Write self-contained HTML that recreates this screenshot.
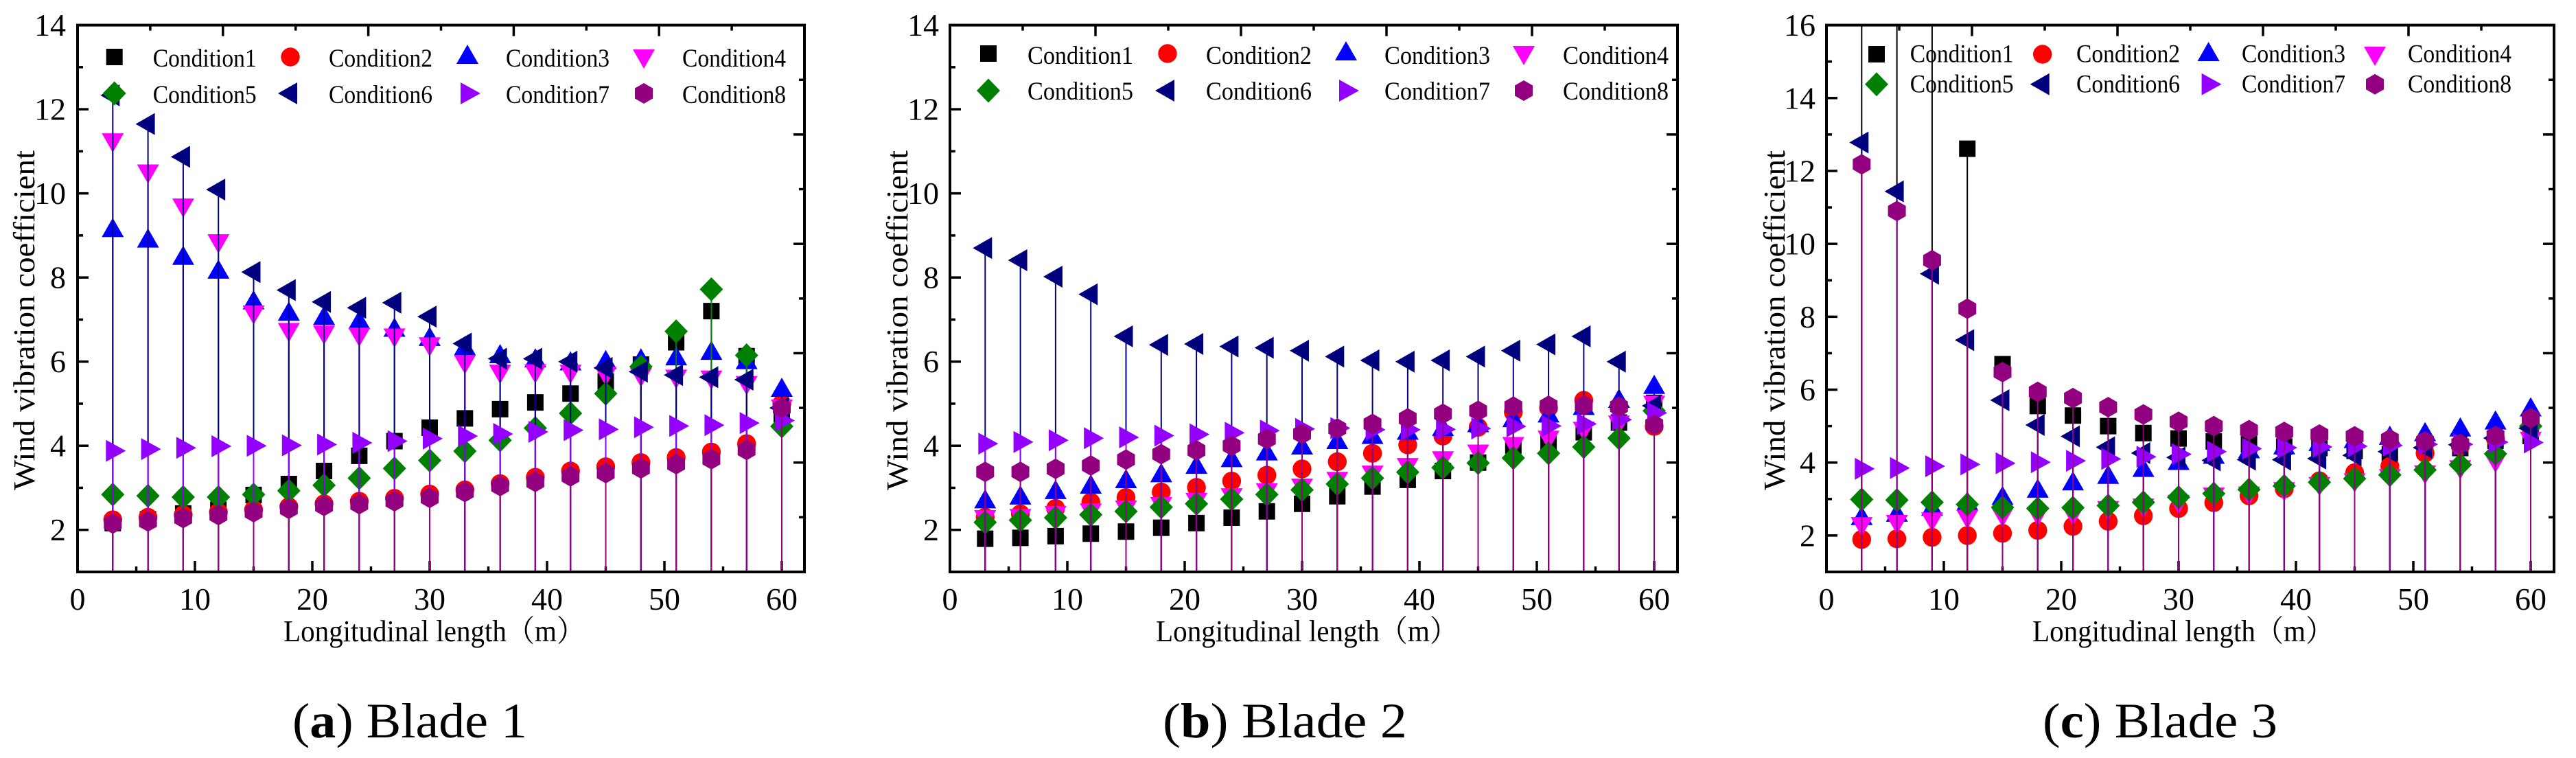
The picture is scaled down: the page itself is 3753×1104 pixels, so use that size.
<!DOCTYPE html>
<html lang="en">
<head>
<meta charset="utf-8">
<title>Wind vibration coefficient along blades 1 to 3</title>
<style>
  html, body { margin: 0; padding: 0; background: #fff; }
  svg { display: block; }
  text { font-family: "Liberation Serif", "Noto Serif CJK SC", serif; fill: #000; }
  .tick-label { font-size: 46px; }
  .axis-title { font-size: 44px; }
  .legend-text { font-size: 37px; }
  .caption { font-size: 72px; }
</style>
</head>
<body>
<svg id="chart" xmlns="http://www.w3.org/2000/svg" width="3753" height="1104" viewBox="0 0 3753 1104">
  <rect width="3753" height="1104" fill="#fff"/>
  <defs>
    <clipPath id="clip-a"><rect x="113" y="36.6" width="1059" height="796.4"/></clipPath>
    <clipPath id="clip-b"><rect x="1384" y="36.6" width="1060" height="796.4"/></clipPath>
    <clipPath id="clip-c"><rect x="2661" y="36.6" width="1060" height="796.4"/></clipPath>
  </defs>

  <g id="panel-a">
    <g id="panel-a-ticks"></g>
    <g id="panel-a-marks" clip-path="url(#clip-a)"></g>
    <g id="panel-a-frame"></g>
    <g id="panel-a-legend"></g>
    <text class="axis-title" x="413" y="934" textLength="439" lengthAdjust="spacingAndGlyphs">Longitudinal length（m）</text>
    <text class="axis-title" transform="translate(50,714) rotate(-90)" textLength="495" lengthAdjust="spacingAndGlyphs">Wind vibration coefficient</text>
    <text class="caption" x="426" y="1074" textLength="342" lengthAdjust="spacingAndGlyphs">(<tspan font-weight="bold">a</tspan>) Blade 1</text>
  </g>

  <g id="panel-b">
    <g id="panel-b-ticks"></g>
    <g id="panel-b-marks" clip-path="url(#clip-b)"></g>
    <g id="panel-b-frame"></g>
    <g id="panel-b-legend"></g>
    <text class="axis-title" x="1684" y="934" textLength="440" lengthAdjust="spacingAndGlyphs">Longitudinal length（m）</text>
    <text class="axis-title" transform="translate(1322,714) rotate(-90)" textLength="495" lengthAdjust="spacingAndGlyphs">Wind vibration coefficient</text>
    <text class="caption" x="1694" y="1074" textLength="356" lengthAdjust="spacingAndGlyphs">(<tspan font-weight="bold">b</tspan>) Blade 2</text>
  </g>

  <g id="panel-c">
    <g id="panel-c-ticks"></g>
    <g id="panel-c-marks" clip-path="url(#clip-c)"></g>
    <g id="panel-c-frame"></g>
    <g id="panel-c-legend"></g>
    <text class="axis-title" x="2961" y="934" textLength="439" lengthAdjust="spacingAndGlyphs">Longitudinal length（m）</text>
    <text class="axis-title" transform="translate(2600,714) rotate(-90)" textLength="495" lengthAdjust="spacingAndGlyphs">Wind vibration coefficient</text>
    <text class="caption" x="2976" y="1074" textLength="342" lengthAdjust="spacingAndGlyphs">(<tspan font-weight="bold">c</tspan>) Blade 3</text>
  </g>
</svg>

<script>
const conditionNames = ['Condition1', 'Condition2', 'Condition3', 'Condition4', 'Condition5', 'Condition6', 'Condition7', 'Condition8'];
const longitudinalLengths = [3, 6, 9, 12, 15, 18, 21, 24, 27, 30, 33, 36, 39, 42, 45, 48, 51, 54, 57, 60];
const xTickLabels = [0, 10, 20, 30, 40, 50, 60];
const yTickLabelsAB = [2, 4, 6, 8, 10, 12, 14];
const yTickLabelsC = [2, 4, 6, 8, 10, 12, 14, 16];

const blade1Condition1 = [2.16, 2.25, 2.39, 2.48, 2.83, 3.09, 3.4, 3.76, 4.11, 4.43, 4.65, 4.87, 5.03, 5.24, 5.53, 5.93, 6.46, 7.2, 6.13, 4.75];
const blade1Condition2 = [2.24, 2.3, 2.36, 2.42, 2.48, 2.55, 2.62, 2.68, 2.75, 2.85, 2.95, 3.1, 3.25, 3.4, 3.5, 3.6, 3.72, 3.85, 4.05, 5.0];
const blade1Condition3 = [9.19, 8.94, 8.53, 8.2, 7.47, 7.2, 7.1, 7.0, 6.82, 6.6, 6.38, 6.19, 6.09, 6.02, 6.05, 6.09, 6.14, 6.27, 6.05, 5.39];
const blade1Condition4 = [11.2, 10.46, 9.65, 8.8, 7.11, 6.69, 6.63, 6.58, 6.56, 6.35, 5.93, 5.7, 5.71, 5.7, 5.65, 5.62, 5.58, 5.56, 5.43, 4.87];
const blade1Condition5 = [2.84, 2.81, 2.78, 2.78, 2.84, 2.93, 3.06, 3.23, 3.46, 3.65, 3.87, 4.13, 4.42, 4.77, 5.24, 5.88, 6.72, 7.72, 6.15, 4.46];
const blade1Condition6 = [12.33, 11.65, 10.87, 10.09, 8.13, 7.7, 7.42, 7.28, 7.4, 7.07, 6.43, 6.07, 6.07, 6.0, 5.85, 5.76, 5.68, 5.63, 5.57, 4.9];
const blade1Condition7 = [3.88, 3.92, 3.95, 3.99, 4.0, 4.01, 4.03, 4.07, 4.11, 4.17, 4.23, 4.28, 4.33, 4.37, 4.39, 4.44, 4.47, 4.49, 4.54, 4.6];
const blade1Condition8 = [2.15, 2.2, 2.28, 2.35, 2.42, 2.5, 2.57, 2.61, 2.68, 2.76, 2.9, 3.04, 3.14, 3.27, 3.35, 3.46, 3.56, 3.68, 3.9, 4.9];

const blade2Condition1 = [1.79, 1.81, 1.85, 1.91, 1.96, 2.05, 2.16, 2.29, 2.44, 2.62, 2.8, 3.03, 3.19, 3.4, 3.6, 4.0, 4.1, 4.32, 4.55, 5.02];
const blade2Condition2 = [2.3, 2.38, 2.51, 2.66, 2.77, 2.9, 3.01, 3.16, 3.3, 3.45, 3.62, 3.82, 4.02, 4.23, 4.44, 4.8, 4.9, 5.08, 4.93, 4.46];
const blade2Condition3 = [2.74, 2.83, 2.96, 3.09, 3.22, 3.36, 3.56, 3.72, 3.88, 4.02, 4.15, 4.27, 4.37, 4.46, 4.55, 4.67, 4.78, 4.96, 5.13, 5.46];
const blade2Condition4 = [2.24, 2.27, 2.34, 2.4, 2.47, 2.55, 2.65, 2.76, 2.88, 2.99, 3.15, 3.3, 3.48, 3.64, 3.8, 3.98, 4.13, 4.34, 4.49, 4.96];
const blade2Condition5 = [2.18, 2.23, 2.29, 2.36, 2.44, 2.54, 2.62, 2.73, 2.84, 2.95, 3.09, 3.23, 3.37, 3.48, 3.59, 3.71, 3.82, 3.97, 4.18, 4.83];
const blade2Condition6 = [8.7, 8.41, 8.02, 7.6, 6.6, 6.4, 6.42, 6.36, 6.33, 6.26, 6.12, 6.03, 6.0, 6.03, 6.12, 6.26, 6.41, 6.6, 6.0, 4.95];
const blade2Condition7 = [4.05, 4.09, 4.13, 4.18, 4.2, 4.24, 4.27, 4.31, 4.36, 4.4, 4.42, 4.38, 4.38, 4.39, 4.41, 4.46, 4.47, 4.52, 4.62, 4.78];
const blade2Condition8 = [3.38, 3.38, 3.45, 3.53, 3.67, 3.8, 3.89, 4.0, 4.16, 4.28, 4.41, 4.52, 4.65, 4.76, 4.83, 4.93, 4.95, 4.96, 4.93, 4.5];

const blade3Condition1 = [20.0, 19.0, 17.0, 12.61, 6.7, 5.55, 5.29, 5.0, 4.81, 4.66, 4.58, 4.5, 4.44, 4.4, 4.32, 4.23, 4.35, 4.4, 4.6, 4.73];
const blade3Condition2 = [1.89, 1.91, 1.95, 2.0, 2.06, 2.14, 2.25, 2.39, 2.54, 2.74, 2.9, 3.09, 3.28, 3.5, 3.72, 3.9, 4.26, 4.45, 4.65, 5.0];
const blade3Condition3 = [2.55, 2.64, 2.8, 2.95, 3.1, 3.3, 3.5, 3.68, 3.87, 4.06, 4.23, 4.38, 4.49, 4.58, 4.66, 4.75, 4.85, 4.98, 5.17, 5.53];
const blade3Condition4 = [2.24, 2.3, 2.37, 2.44, 2.49, 2.52, 2.53, 2.68, 2.75, 2.85, 3.05, 3.08, 3.2, 3.34, 3.44, 3.56, 3.66, 3.8, 3.98, 4.58];
const blade3Condition5 = [2.99, 2.97, 2.91, 2.85, 2.77, 2.74, 2.76, 2.82, 2.91, 3.05, 3.15, 3.26, 3.36, 3.46, 3.56, 3.66, 3.8, 3.94, 4.24, 5.0];
const blade3Condition6 = [12.78, 11.44, 9.18, 7.36, 5.71, 5.03, 4.72, 4.42, 4.26, 4.14, 4.06, 4.08, 4.08, 4.11, 4.2, 4.3, 4.41, 4.49, 4.67, 4.94];
const blade3Condition7 = [3.83, 3.85, 3.9, 3.95, 3.98, 4.01, 4.05, 4.1, 4.16, 4.23, 4.3, 4.38, 4.41, 4.43, 4.45, 4.47, 4.5, 4.5, 4.56, 4.55];
const blade3Condition8 = [12.18, 10.9, 9.55, 8.22, 6.48, 5.94, 5.77, 5.52, 5.32, 5.12, 5.0, 4.89, 4.84, 4.77, 4.72, 4.64, 4.58, 4.51, 4.73, 5.22];

const blade1Series = [blade1Condition1, blade1Condition2, blade1Condition3, blade1Condition4, blade1Condition5, blade1Condition6, blade1Condition7, blade1Condition8];
const blade2Series = [blade2Condition1, blade2Condition2, blade2Condition3, blade2Condition4, blade2Condition5, blade2Condition6, blade2Condition7, blade2Condition8];
const blade3Series = [blade3Condition1, blade3Condition2, blade3Condition3, blade3Condition4, blade3Condition5, blade3Condition6, blade3Condition7, blade3Condition8];

const SVG_NS = 'http://www.w3.org/2000/svg';
const seriesColors = ['#000000', '#ff0000', '#0000ff', '#ff00ff', '#008000', '#00007f', '#9400ff', '#93007f'];
const markerShapes = [
  [[-12, -12], [12, -12], [12, 12], [-12, 12]],
  null,
  [[0, -14], [16, 14], [-16, 14]],
  [[-16, -14], [16, -14], [0, 14]],
  [[0, -17.5], [17, 0], [0, 17.5], [-17, 0]],
  [[-18, 0], [10, -16], [10, 16]],
  [[-10, -16], [19, 0], [-10, 16]],
  [[0, -15], [13, -7.5], [13, 7.5], [0, 15], [-13, 7.5], [-13, -7.5]]
];

function svgEl(tag, attrs, parent) {
  const el = document.createElementNS(SVG_NS, tag);
  for (const key in attrs) {
    el.setAttribute(key, attrs[key]);
  }
  parent.appendChild(el);
  return el;
}

function drawMarker(parent, s, cx, cy, nameLabel) {
  let el;
  if (markerShapes[s]) {
    const pts = markerShapes[s].map(p => (cx + p[0]) + ',' + (cy + p[1])).join(' ');
    el = svgEl('polygon', { points: pts, fill: seriesColors[s] }, parent);
  } else {
    el = svgEl('circle', { cx: cx, cy: cy, r: 13.7, fill: seriesColors[s] }, parent);
  }
  
  
  return el;
}

function drawPanel(cfg) {
  const xPx = v => cfg.left + (v - 0) * (1026 / 60);
  const yPx = v => cfg.bottom - (v - 1) * ((cfg.bottom - cfg.top) / (cfg.yMax - 1));
  const width = cfg.right - cfg.left;
  const height = cfg.bottom - cfg.top;
  const ticks = document.getElementById(cfg.id + '-ticks');
  const marks = document.getElementById(cfg.id + '-marks');
  const frame = document.getElementById(cfg.id + '-frame');
  const legend = document.getElementById(cfg.id + '-legend');

  for (let v = 5; v <= 60; v += 5) {
    const len = v % 10 === 0 ? 16 : 8;
    const t = svgEl('line', { x1: xPx(v), x2: xPx(v), y1: cfg.bottom, y2: cfg.bottom - len, stroke: '#000', 'stroke-width': 3.5 }, ticks);
    
    
  }
  for (let v = 2; v <= cfg.yMax - 1; v += 1) {
    const len = v % 2 === 0 ? 16 : 8;
    const t = svgEl('line', { x1: cfg.left, x2: cfg.left + len, y1: yPx(v), y2: yPx(v), stroke: '#000', 'stroke-width': 3.5 }, ticks);
    
    
  }
  for (let k = 1; k <= 9; k += 1) {
    const len = k % 2 === 0 ? 16 : 8;
    const topX = cfg.left + k * width / 10;
    const topTick = svgEl('line', { x1: topX, x2: topX, y1: cfg.top, y2: cfg.top + len, stroke: '#000', 'stroke-width': 3.5 }, ticks);
    
    
    const rightY = cfg.bottom - k * height / 10;
    const rightTick = svgEl('line', { x1: cfg.right, x2: cfg.right - len, y1: rightY, y2: rightY, stroke: '#000', 'stroke-width': 3.5 }, ticks);
    
    
  }

  xTickLabels.forEach(v => {
    const t = svgEl('text', { class: 'tick-label', x: xPx(v), y: 888, 'text-anchor': 'middle' }, frame);
    t.textContent = v;
    
    
  });
  cfg.yTicks.forEach(v => {
    const t = svgEl('text', { class: 'tick-label', x: cfg.yLabelRight, y: yPx(v) + 15.5, 'text-anchor': 'end' }, frame);
    t.textContent = v;
    
    
  });

  cfg.series.forEach((values, s) => {
    const group = svgEl('g', {}, marks);
    
    
    values.forEach((value, i) => {
      const px = xPx(longitudinalLengths[i]);
      const py = yPx(value);
      const stem = svgEl('line', { x1: px, x2: px, y1: py, y2: cfg.bottom, stroke: seriesColors[s], 'stroke-width': 2 }, group);
      
      
      drawMarker(group, s, px, py, 'data-point');
    });
  });

  const box = svgEl('rect', { x: cfg.left, y: cfg.top, width: width, height: height, fill: 'none', stroke: '#000', 'stroke-width': 4 }, frame);
  
  

  const legendDy = [0, 0, -4, 3, 0, 0, 0, 0];
  conditionNames.forEach((name, s) => {
    const col = s % 4;
    const row = s < 4 ? 0 : 1;
    drawMarker(legend, s, cfg.legendSymbolX[col], cfg.legendSymbolY[row] + legendDy[s], 'legend-symbol-' + name.toLowerCase());
    const label = svgEl('text', { class: 'legend-text', x: cfg.legendTextX[col], y: cfg.legendBaseline[row], textLength: cfg.legendTextWidth, lengthAdjust: 'spacingAndGlyphs' }, legend);
    label.textContent = name;
    
    
  });
}

drawPanel({
  id: 'panel-a', left: 113, right: 1172, top: 36.6, bottom: 833, yMax: 14,
  yTicks: yTickLabelsAB, yLabelRight: 96, series: blade1Series,
  legendSymbolX: [166.7, 423, 681, 938], legendSymbolY: [83, 136],
  legendTextX: [222.7, 479, 737, 994], legendBaseline: [97, 150], legendTextWidth: 151
});
drawPanel({
  id: 'panel-b', left: 1384, right: 2444, top: 36.6, bottom: 833, yMax: 14,
  yTicks: yTickLabelsAB, yLabelRight: 1368, series: blade2Series,
  legendSymbolX: [1440, 1701, 1961, 2220], legendSymbolY: [78, 132],
  legendTextX: [1497, 1757, 2017, 2277], legendBaseline: [93, 145], legendTextWidth: 154
});
drawPanel({
  id: 'panel-c', left: 2661, right: 3721, top: 36.6, bottom: 833, yMax: 16,
  yTicks: yTickLabelsC, yLabelRight: 2645, series: blade3Series,
  legendSymbolX: [2734, 2975.7, 3217.6, 3460], legendSymbolY: [79, 122.7],
  legendTextX: [2782.7, 3025, 3266, 3508], legendBaseline: [90.7, 134.7], legendTextWidth: 151
});
</script>
</body>
</html>
